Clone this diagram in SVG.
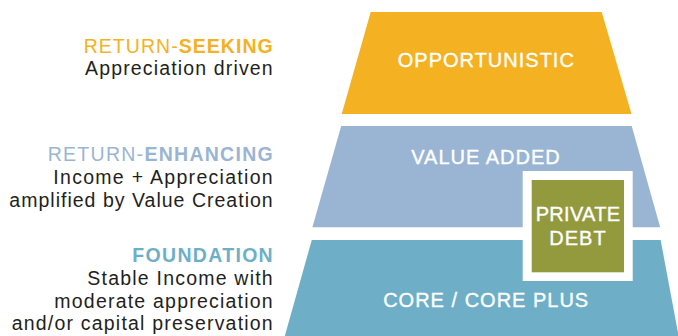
<svg xmlns="http://www.w3.org/2000/svg" width="678" height="336" viewBox="0 0 678 336">
  <style>
    .tier { font-family: "Liberation Sans", Arial, sans-serif; font-size: 20px; fill: #ffffff; stroke: #ffffff; stroke-width: 0.35px; text-anchor: middle; letter-spacing: 1px; }
    .head { font-family: "Liberation Sans", Arial, sans-serif; font-size: 19.5px; text-anchor: end; }
    .body { font-family: "Liberation Sans", Arial, sans-serif; font-size: 19.5px; text-anchor: end; fill: #231f20; }
    .b { font-weight: bold; }
    .orange { fill: #f4b223; }
    .blue { fill: #9ab5d3; }
    .teal { fill: #6eafc7; }
  </style>
  <rect width="678" height="336" fill="#ffffff"/>

  <g id="opportunistic">
    <polygon class="orange" points="370.7,12 601.7,12 631.5,114 341.7,114"/>
    <text class="tier" x="486.3" y="66.7">OPPORTUNISTIC</text>
  </g>

  <g id="value-added">
    <polygon class="blue" points="341.2,126 631.7,126 660.2,227.3 312.4,227.3"/>
    <text class="tier" x="486" y="164.3">VALUE ADDED</text>
  </g>

  <g id="core">
    <polygon class="teal" points="311.8,240 660.6,240 678.6,336 284.8,336"/>
    <text class="tier" x="486.2" y="306.7">CORE / CORE PLUS</text>
  </g>

  <g id="private-debt">
    <rect x="522.7" y="171" width="110" height="110" fill="#ffffff"/>
    <rect x="531.7" y="180" width="92.3" height="92.3" fill="#929a3d"/>
    <text class="tier" x="578" y="220.7" style="letter-spacing:0.3px">PRIVATE</text>
    <text class="tier" x="578" y="245">DEBT</text>
  </g>

  <g id="label-return-seeking">
    <text class="head" x="272.7" y="52.5" textLength="189" lengthAdjust="spacing"><tspan class="orange">RETURN-</tspan><tspan class="orange b">SEEKING</tspan></text>
    <text class="body" x="272.7" y="75" textLength="187.7" lengthAdjust="spacing">Appreciation driven</text>
  </g>

  <g id="label-return-enhancing">
    <text class="head" x="272.7" y="160.7" textLength="225" lengthAdjust="spacing"><tspan class="blue">RETURN-</tspan><tspan class="blue b">ENHANCING</tspan></text>
    <text class="body" x="272.7" y="184" textLength="219.4" lengthAdjust="spacing">Income + Appreciation</text>
    <text class="body" x="272.7" y="206.7" textLength="263.4" lengthAdjust="spacing">amplified by Value Creation</text>
  </g>

  <g id="label-foundation">
    <text class="head teal b" x="272.7" y="262.3" textLength="140.4" lengthAdjust="spacing">FOUNDATION</text>
    <text class="body" x="272.7" y="285" textLength="185.4" lengthAdjust="spacing">Stable Income with</text>
    <text class="body" x="272.7" y="307.7" textLength="218.4" lengthAdjust="spacing">moderate appreciation</text>
    <text class="body" x="272.7" y="330.3" textLength="261" lengthAdjust="spacing">and/or capital preservation</text>
  </g>

  <g id="connectors"></g>
</svg>
